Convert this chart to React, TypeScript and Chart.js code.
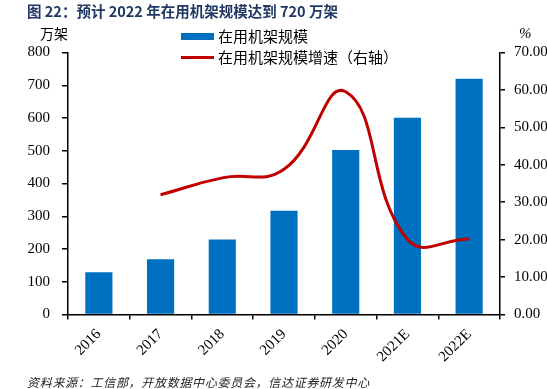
import React, { useEffect, useRef } from "react";
import { Chart, registerables } from "chart.js";

Chart.register(...registerables);

const categories = ["2016", "2017", "2018", "2019", "2020", "2021E", "2022E"];
const rackScale = [129, 169, 229, 317, 502, 601, 720];
const rackGrowth = [null, 32.0, 36.5, 38.8, 59.5, 20.1, 20.2];
const leftTicks = [0, 100, 200, 300, 400, 500, 600, 700, 800];
const rightTicks = [0, 10, 20, 30, 40, 50, 60, 70];

const W = 547;
const H = 389;
const serif = "\"Liberation Serif\", \"DejaVu Serif\", serif";
const cjk = "\"Noto Sans CJK SC\", sans-serif";

export default function App() {
  const ref = useRef<HTMLCanvasElement | null>(null);

  useEffect(() => {
    document.body.style.margin = "0";
    const ctx = ref.current!.getContext("2d")!;
    const chart = new Chart(ctx, {
      type: "bar",
      data: {
        labels: categories,
        datasets: [
          {
            type: "line",
            label: "在用机架规模增速（右轴）",
            data: rackGrowth,
            yAxisID: "y1",
            borderColor: "#C00000",
            backgroundColor: "#C00000",
            borderWidth: 3,
            pointRadius: 0,
            tension: 0.45,
            order: 0,
          } as any,
          {
            type: "bar",
            label: "在用机架规模",
            data: rackScale,
            yAxisID: "y",
            backgroundColor: "#0070C0",
            barPercentage: 0.44,
            categoryPercentage: 1,
            order: 1,
          },
        ],
      },
      options: {
        animation: false,
        responsive: true,
        maintainAspectRatio: false,
        layout: { padding: { top: 52.5, bottom: 0, left: 0, right: 0 } },
        plugins: {
          legend: { display: false },
          tooltip: { enabled: false },
          title: { display: false },
        },
        scales: {
          x: {
            grid: {
              drawOnChartArea: false,
              drawTicks: true,
              tickLength: 5,
              color: "#000",
              lineWidth: 1.5,
              offset: true,
            },
            border: { color: "#000", width: 1.5 },
            ticks: {
              color: "#000",
              font: { family: serif, size: 15 },
              minRotation: 45,
              maxRotation: 45,
              padding: 6,
              autoSkip: false,
            },
            afterFit: (s: any) => {
              s.height = H - 314.5;
            },
          },
          y: {
            position: "left",
            min: 0,
            max: 800,
            afterBuildTicks: (s: any) => {
              s.ticks = leftTicks.map((v) => ({ value: v }));
            },
            grid: {
              drawOnChartArea: false,
              drawTicks: true,
              tickLength: 6,
              color: "#000",
              lineWidth: 1.5,
            },
            border: { color: "#000", width: 1.5 },
            ticks: {
              color: "#000",
              font: { family: serif, size: 15 },
              padding: 12,
            },
            afterFit: (s: any) => {
              s.width = 68;
            },
          },
          y1: {
            position: "right",
            min: 0,
            max: 70,
            afterBuildTicks: (s: any) => {
              s.ticks = rightTicks.map((v) => ({ value: v }));
            },
            grid: {
              drawOnChartArea: false,
              drawTicks: true,
              tickLength: 5,
              color: "#000",
              lineWidth: 1.5,
            },
            border: { color: "#000", width: 1.5 },
            ticks: {
              color: "#000",
              font: { family: serif, size: 15 },
              padding: 9,
              callback: (v: any) => Number(v).toFixed(2),
            },
            afterFit: (s: any) => {
              s.width = W - 500;
            },
          },
        },
      },
    });
    return () => chart.destroy();
  }, []);

  const abs = (o: React.CSSProperties): React.CSSProperties => ({
    position: "absolute",
    whiteSpace: "nowrap",
    ...o,
  });

  return (
    <div style={{ position: "fixed", left: 0, top: 0, width: W, height: H, background: "#fff" }}>
      <div style={{ position: "absolute", left: 0, top: 0, width: W, height: H }}>
        <canvas ref={ref} width={W} height={H} />
      </div>
      <div
        style={abs({
          left: 27,
          top: 1,
          fontFamily: cjk,
          fontWeight: 700,
          fontSize: 14.5,
          color: "#1F3864",
          lineHeight: "20px",
        })}
      >
        图 22：预计 2022 年在用机架规模达到 720 万架
      </div>
      <div style={abs({ left: 40, top: 24, fontFamily: cjk, fontSize: 14, color: "#000", lineHeight: "18px" })}>
        万架
      </div>
      <div style={abs({ left: 519, top: 24, fontFamily: serif, fontStyle: "italic", fontSize: 15, color: "#000", lineHeight: "18px" })}>
        %
      </div>
      <div style={abs({ left: 181, top: 33, width: 33, height: 7, background: "#0070C0" })} />
      <div style={abs({ left: 218, top: 26, fontFamily: cjk, fontSize: 15, color: "#000", lineHeight: "20px" })}>
        在用机架规模
      </div>
      <div style={abs({ left: 181, top: 56, width: 33, height: 2.5, background: "#C00000" })} />
      <div style={abs({ left: 218, top: 47, fontFamily: cjk, fontSize: 15, color: "#000", lineHeight: "20px" })}>
        在用机架规模增速（右轴）
      </div>
      <div
        style={abs({
          left: 27,
          top: 374,
          fontFamily: cjk,
          fontStyle: "italic",
          fontSize: 12,
          letterSpacing: "0.7px",
          color: "#222",
          lineHeight: "16px",
        })}
      >
        资料来源：工信部，开放数据中心委员会，信达证券研发中心
      </div>
    </div>
  );
}
